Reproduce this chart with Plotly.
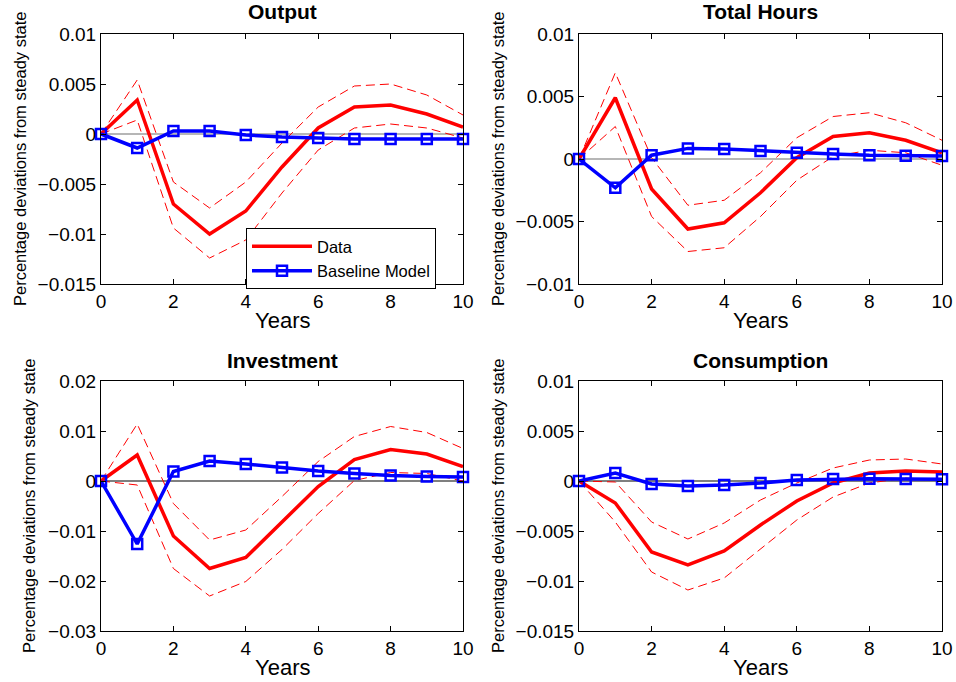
import plotly.graph_objects as go
from plotly.subplots import make_subplots

W, H = 956, 682

years = [0, 1, 2, 3, 4, 5, 6, 7, 8, 9, 10]
zeros = [0] * 11

output_data = [0, 0.0034, -0.0070, -0.0100, -0.0077, -0.0033, 0.0006, 0.0027, 0.0029, 0.0020, 0.0007]
output_upper = [0, 0.0054, -0.0048, -0.0074, -0.0048, -0.0009, 0.0027, 0.0048, 0.0050, 0.0039, 0.0019]
output_lower = [0, 0.0014, -0.0094, -0.0124, -0.0106, -0.0059, -0.0016, 0.0006, 0.0010, 0.0006, -0.0004]
output_model = [0, -0.0014, 0.0003, 0.0003, -0.0001, -0.0003, -0.0004, -0.0005, -0.0005, -0.0005, -0.0005]

hours_data = [0, 0.0049, -0.0024, -0.0056, -0.0051, -0.0027, 0.0001, 0.0018, 0.0021, 0.0015, 0.0005]
hours_upper = [0, 0.0069, 0.0001, -0.0037, -0.0033, -0.0011, 0.0017, 0.0034, 0.0037, 0.0029, 0.0015]
hours_lower = [0, 0.0026, -0.0046, -0.0074, -0.0071, -0.0046, -0.0017, 0.0002, 0.0007, 0.0005, -0.0005]
hours_model = [0, -0.0023, 0.0003, 0.00085, 0.0008, 0.00065, 0.0005, 0.0004, 0.0003, 0.00027, 0.00024]

invest_data = [0, 0.0052, -0.0110, -0.0175, -0.0153, -0.0083, -0.0011, 0.0043, 0.0063, 0.0054, 0.0029]
invest_upper = [0, 0.0114, -0.0045, -0.0118, -0.0098, -0.0031, 0.0039, 0.0089, 0.0109, 0.0097, 0.0065]
invest_lower = [0, -0.0008, -0.0175, -0.0230, -0.0201, -0.0137, -0.0065, 0.0001, 0.0017, 0.0015, 0.0000]
invest_model = [0, -0.0126, 0.0019, 0.0040, 0.0034, 0.0027, 0.0020, 0.0015, 0.0011, 0.0009, 0.0008]

cons_data = [0, -0.0022, -0.0071, -0.0084, -0.0070, -0.0044, -0.0020, -0.0002, 0.0008, 0.0010, 0.0009]
cons_upper = [0, -0.0001, -0.0041, -0.0058, -0.0042, -0.0019, -0.0002, 0.0013, 0.0021, 0.0022, 0.0017]
cons_lower = [0, -0.0041, -0.0091, -0.0109, -0.0097, -0.0068, -0.0039, -0.0016, -0.0002, 0.0003, 0.0001]
cons_model = [0, 0.0008, -0.0003, -0.0005, -0.0004, -0.0002, 0.0001, 0.0002, 0.00023, 0.0002, 0.00017]

titles = ["Output", "Total Hours", "Investment", "Consumption"]
x_ticks = [0, 2, 4, 6, 8, 10]
y_ticks_output = [0.01, 0.005, 0, -0.005, -0.01, -0.015]
y_text_output = ["0.01", "0.005", "0", "\u22120.005", "\u22120.01", "\u22120.015"]
y_ticks_hours = [0.01, 0.005, 0, -0.005, -0.01]
y_text_hours = ["0.01", "0.005", "0", "\u22120.005", "\u22120.01"]
y_ticks_invest = [0.02, 0.01, 0, -0.01, -0.02, -0.03]
y_text_invest = ["0.02", "0.01", "0", "\u22120.01", "\u22120.02", "\u22120.03"]
y_ticks_cons = [0.01, 0.005, 0, -0.005, -0.01, -0.015]
y_text_cons = ["0.01", "0.005", "0", "\u22120.005", "\u22120.01", "\u22120.015"]

panels = [
    (1, 1, output_data, output_upper, output_lower, output_model, y_ticks_output, y_text_output, "#6e6e6e"),
    (1, 2, hours_data, hours_upper, hours_lower, hours_model, y_ticks_hours, y_text_hours, "#6e6e6e"),
    (2, 1, invest_data, invest_upper, invest_lower, invest_model, y_ticks_invest, y_text_invest, "black"),
    (2, 2, cons_data, cons_upper, cons_lower, cons_model, y_ticks_cons, y_text_cons, "black"),
]

FONT = "Liberation Sans, Arial, sans-serif"
fig = make_subplots(rows=2, cols=2)

# pixel geometry of the plot areas
col_px = {1: (101, 463), 2: (579, 942)}
row_px = {1: (34, 284), 2: (381, 631)}

for i, (r, c, dat, up, lo, mod, yt, ytxt, zc) in enumerate(panels):
    first = i == 0
    fig.add_trace(go.Scatter(x=years, y=zeros, mode="lines", line=dict(color=zc, width=1.2),
                             showlegend=False, hoverinfo="skip"), row=r, col=c)
    fig.add_trace(go.Scatter(x=years, y=up, mode="lines", line=dict(color="red", width=1, dash="9px,5px"),
                             showlegend=False), row=r, col=c)
    fig.add_trace(go.Scatter(x=years, y=lo, mode="lines", line=dict(color="red", width=1, dash="9px,5px"),
                             showlegend=False), row=r, col=c)
    fig.add_trace(go.Scatter(x=years, y=dat, mode="lines", name="Data", line=dict(color="red", width=3.5),
                             showlegend=first, legendrank=1), row=r, col=c)
    fig.add_trace(go.Scatter(x=years, y=mod, mode="lines+markers", name="Baseline Model",
                             line=dict(color="blue", width=3.5),
                             marker=dict(symbol="square-open", size=10, color="blue", line=dict(width=2.5, color="blue")),
                             cliponaxis=False, showlegend=first, legendrank=2), row=r, col=c)
    x0, x1 = col_px[c]
    y0, y1 = row_px[r]
    fig.update_xaxes(domain=[x0 / W, x1 / W], range=[0, 10], tickvals=x_ticks, ticktext=[str(t) for t in x_ticks],
                     row=r, col=c)
    fig.update_yaxes(domain=[1 - y1 / H, 1 - y0 / H], range=[yt[-1], yt[0]], tickvals=yt, ticktext=ytxt,
                     row=r, col=c)

fig.update_xaxes(showline=True, linecolor="black", linewidth=1, mirror="ticks", ticks="inside", ticklen=5,
                 tickcolor="black", showgrid=False, zeroline=False, automargin=False,
                 tickfont=dict(family=FONT, size=19, color="black"))
fig.update_yaxes(showline=True, linecolor="black", linewidth=1, mirror="ticks", ticks="inside", ticklen=5,
                 tickcolor="black", showgrid=False, zeroline=False, automargin=False,
                 tickfont=dict(family=FONT, size=19, color="black"))

annotations = []
title_pos = [(282, 12), (760, 12), (282, 360), (760, 360)]
for t, (px, py) in zip(titles, title_pos):
    annotations.append(dict(text="<b>%s</b>" % t, x=px / W, y=1 - py / H, xref="paper", yref="paper",
                            showarrow=False, xanchor="center", yanchor="middle",
                            font=dict(family=FONT, size=21, color="black")))
for px, py in [(282, 320), (760, 320), (282, 667), (760, 667)]:
    annotations.append(dict(text="Years", x=px / W, y=1 - py / H, xref="paper", yref="paper",
                            showarrow=False, xanchor="center", yanchor="middle",
                            font=dict(family=FONT, size=22, color="black")))
for px, py in [(20, 159), (498, 159), (29, 506), (498, 506)]:
    annotations.append(dict(text="Percentage deviations from steady state", x=px / W, y=1 - py / H,
                            xref="paper", yref="paper", showarrow=False, textangle=-90,
                            xanchor="center", yanchor="middle",
                            font=dict(family=FONT, size=16.5, color="black")))

fig.update_layout(
    width=W, height=H,
    margin=dict(l=0, r=0, t=0, b=0, autoexpand=False),
    paper_bgcolor="white", plot_bgcolor="white",
    annotations=annotations,
    legend=dict(x=246 / W, y=1 - 228 / H, xanchor="left", yanchor="top",
                bgcolor="white", bordercolor="black", borderwidth=1,
                font=dict(family=FONT, size=16.5, color="black"), tracegroupgap=0, itemwidth=60),
)

fig.write_html("out.html", config={"displayModeBar": False},
               post_script="document.body.style.margin='0px';document.body.style.overflow='hidden';")
